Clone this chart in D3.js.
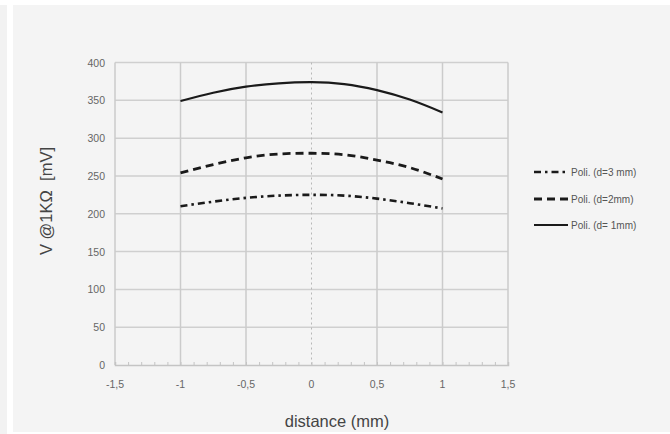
<!DOCTYPE html>
<html>
<head>
<meta charset="utf-8">
<script src="https://cdn.jsdelivr.net/npm/d3@7"></script>
<style>
  body { margin: 0; background: #fff; }
  svg { display: block; }
  text { font-family: "Liberation Sans", Arial, sans-serif; }
</style>
</head>
<body>
<div id="chart"></div>
<script>
// distances (mm) where the fitted curves are read
const distances = [-1, -0.75, -0.5, -0.25, 0, 0.25, 0.5, 0.75, 1];

// V @1KΩ [mV] for each probe distance
const d1mm = [349, 360, 368, 372.5, 374, 371.5, 363.5, 351, 334];
const d2mm = [254, 265, 274, 279, 280, 278, 271, 261, 246];
const d3mm = [210, 216, 221, 224, 225, 224, 220, 214, 207];

const seriesNames = ['Poli. (d=3 mm)', 'Poli. (d=2mm)', 'Poli. (d= 1mm)'];
const xTicks = [-1.5, -1, -0.5, 0, 0.5, 1, 1.5];
const yTicks = [0, 50, 100, 150, 200, 250, 300, 350, 400];

const W = 670, H = 434;
const plot = {left: 115, right: 508, top: 62.5, bottom: 365};

const svg = d3.select('#chart').append('svg')
    .attr('width', W).attr('height', H);

// background panels
svg.append('rect').attr('x', 0).attr('y', 5).attr('width', 7).attr('height', H - 5).attr('fill', '#f2f2f2');
svg.append('rect').attr('x', 13).attr('y', 5).attr('width', W - 13).attr('height', H - 7).attr('fill', '#f4f4f4');

const x = d3.scaleLinear().domain([-1.5, 1.5]).range([plot.left, plot.right]);
const y = d3.scaleLinear().domain([0, 400]).range([plot.bottom, plot.top]);

// horizontal grid
svg.append('g')
    .selectAll('line')
    .data(yTicks.filter(d => d > 0))
    .join('line')
    .attr('x1', plot.left).attr('x2', plot.right)
    .attr('y1', d => y(d)).attr('y2', d => y(d))
    .attr('stroke', '#cfcfcf').attr('stroke-width', 1.5);

// vertical grid (0 is dotted)
svg.append('g')
    .selectAll('line')
    .data(xTicks)
    .join('line')
    .attr('x1', d => x(d)).attr('x2', d => x(d))
    .attr('y1', plot.top).attr('y2', plot.bottom)
    .attr('stroke', d => d === 0 ? '#b8b8b8' : '#cbcbcb')
    .attr('stroke-width', d => d === 0 ? 1 : 1.5)
    .attr('stroke-dasharray', d => d === 0 ? '2,3' : null);

// bottom axis with minor ticks
const xAxis = d3.axisBottom(x)
    .tickValues(d3.range(-15, 16).map(v => v / 10))
    .tickSize(-3)
    .tickFormat('');
const gx = svg.append('g')
    .attr('transform', `translate(0,${plot.bottom})`)
    .call(xAxis);
gx.select('.domain').attr('stroke', '#c4c4c4').attr('stroke-width', 1.5);
gx.selectAll('.tick line').attr('stroke', '#c4c4c4');

// tick labels
svg.append('g')
    .selectAll('text')
    .data(xTicks)
    .join('text')
    .attr('x', d => x(d)).attr('y', 388)
    .attr('text-anchor', 'middle')
    .attr('font-size', 10.5).attr('fill', '#666')
    .text(d => String(d).replace('.', ','));

svg.append('g')
    .selectAll('text')
    .data(yTicks)
    .join('text')
    .attr('x', 105).attr('y', d => y(d) + 4)
    .attr('text-anchor', 'end')
    .attr('font-size', 10.5).attr('fill', '#666')
    .text(d => d);

// curves
const line = d3.line()
    .x((d, i) => x(distances[i]))
    .y(d => y(d))
    .curve(d3.curveNatural);

const series = [
    {values: d3mm, dash: '7,4,2.5,4', width: 2.6},
    {values: d2mm, dash: '8,5', width: 2.8},
    {values: d1mm, dash: null, width: 2.2}
];

svg.append('g')
    .selectAll('path')
    .data(series)
    .join('path')
    .attr('d', d => line(d.values))
    .attr('fill', 'none')
    .attr('stroke', '#1a1a1a')
    .attr('stroke-width', d => d.width)
    .attr('stroke-dasharray', d => d.dash);

// legend
const legendY = [172, 199, 225];
const lg = svg.append('g')
    .selectAll('g')
    .data(series)
    .join('g')
    .attr('transform', (d, i) => `translate(534,${legendY[i]})`);
lg.append('line')
    .attr('x1', 0).attr('x2', 34)
    .attr('y1', 0).attr('y2', 0)
    .attr('stroke', '#1a1a1a')
    .attr('stroke-width', d => d.width)
    .attr('stroke-dasharray', d => d.dash);
lg.append('text')
    .attr('x', 37).attr('y', 3.5)
    .attr('font-size', 10).attr('fill', '#555')
    .text((d, i) => seriesNames[i]);

// axis titles
svg.append('text')
    .attr('transform', 'translate(52,201) rotate(-90)')
    .attr('text-anchor', 'middle')
    .attr('font-size', 16.5).attr('fill', '#444')
    .attr('xml:space', 'preserve')
    .text('V @1KΩ  [mV]');

svg.append('text')
    .attr('x', 337).attr('y', 427)
    .attr('text-anchor', 'middle')
    .attr('font-size', 16.5).attr('fill', '#444')
    .text('distance (mm)');
</script>
</body>
</html>
